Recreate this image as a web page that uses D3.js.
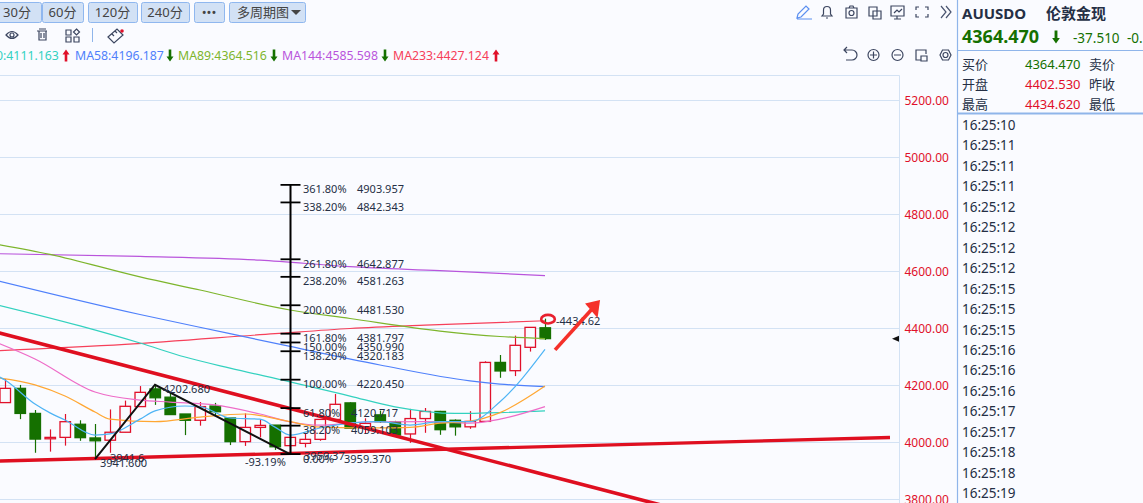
<!DOCTYPE html>
<html>
<head>
<meta charset="utf-8">
<script src="https://cdn.jsdelivr.net/npm/d3@7"></script>
<style>
    html, body { margin: 0; padding: 0; background: #fafbff; overflow: hidden; }
    svg { display: block; }
    text { font-family: "Noto Sans", "Noto Sans CJK SC", sans-serif; }
</style>
</head>
<body>
<script>
// candles, left to right
const candleOpen = [4140, 4190, 4102, 4013, 4018, 4064, 4016, 4008, 4036, 4126, 4188, 4159, 4100, 4078, 4128, 4086, 4003, 4053, 4061, 3989, 3997, 4011, 4081, 4139, 4055, 4097, 4072, 4030, 4084, 4109, 4078, 4055, 4074, 4281, 4252, 4334, 4402.53];
const candleClose = [4190, 4102, 4012, 4018, 4073, 4017, 4006, 4036, 4127, 4176, 4157, 4098, 4078, 4126, 4108, 4003, 4053, 4060, 3985, 4018, 4011, 4081, 4134, 4050, 4067, 4073, 4026, 4084, 4109, 4045, 4055, 4074, 4281, 4251, 4341, 4404, 4364.47];
const candleHigh = [4223, 4202, 4114, 4046, 4100, 4078, 4065, 4116, 4147, 4198, 4202.68, 4174, 4100, 4142, 4139, 4086, 4102, 4081, 4061, 4018, 4032, 4081, 4170, 4141, 4085, 4112, 4076, 4118, 4121, 4111, 4081, 4110, 4285, 4307, 4375, 4404, 4434.62];
const candleLow = [4140, 4082, 3964, 3968, 3989, 4006, 3941.6, 3964, 4036, 4126, 4132, 4098, 4026, 4059, 4096, 3991, 3988, 4018, 3974, 3959.37, 3983, 4006, 4081, 4050, 4030, 4069, 4026, 3999, 4034, 4027, 4024, 4048, 4074, 4227, 4233, 4319, 4360];

const ma5Idx = [-1, 0, 2, 3, 4, 6, 7, 9, 10, 12, 13, 15, 17, 18, 19, 21, 23, 25, 27, 29, 31, 33, 36];
const ma5Val = [4247, 4219, 4135, 4104, 4079, 4026, 4030, 4082, 4111, 4128, 4126, 4086, 4082, 4054, 4026, 4051, 4068, 4073, 4061, 4073, 4073, 4143, 4327];
const ma10Idx = [-1, 2, 4, 6, 7, 10, 13, 16, 19, 21, 25, 27, 29, 31, 33, 36];
const ma10Val = [4230, 4202, 4163, 4107, 4082, 4073, 4089, 4100, 4073, 4054, 4051, 4053, 4068, 4075, 4105, 4198];
const ma20Idx = [-1, 2, 6, 9, 11, 14, 17, 19, 21, 24, 28, 31, 33, 36];
const ma20Val = [4360, 4293, 4177, 4149, 4142, 4132, 4100, 4072, 4061, 4072, 4073, 4068, 4082, 4126];
const ma30Idx = [-1, 5, 9, 12, 15, 19, 23, 26, 30, 33, 36];
const ma30Val = [4489, 4409, 4349, 4300, 4261, 4213, 4163, 4125, 4102, 4105, 4111.163];
const ma58Idx = [-1, 9, 15, 19, 25, 31, 33, 36];
const ma58Val = [4574, 4449, 4382, 4337, 4272, 4216, 4205, 4196.187];
const ma89Idx = [-1, 3, 9, 13, 19, 23, 29, 33, 36];
const ma89Val = [4700, 4660, 4581, 4535, 4465, 4435, 4391, 4372, 4364.516];
const ma144Idx = [-1, 9, 17, 23, 29, 36];
const ma144Val = [4663, 4653, 4640, 4617, 4603, 4585.598];
const ma233Idx = [-1, 8, 18, 23, 28, 36];
const ma233Val = [4321, 4344, 4382, 4400, 4412, 4427.124];

// drawn objects
const trendDownIdx = [-1, 44];
const trendDownVal = [4393, 3777];
const trendUpIdx = [-1, 59];
const trendUpVal = [3934, 4017.5];
const zigzagIdx = [6, 10, 19];
const zigzagVal = [3941.6, 4202.68, 3959.37];
const arrowIdx = [36.67, 39.67];
const arrowVal = [4325, 4500];

const fibPct = ['361.80%', '338.20%', '261.80%', '238.20%', '200.00%', '161.80%', '150.00%', '138.20%', '100.00%', '61.80%', '38.20%', '0.00%'];
const fibVal = [4903.957, 4842.343, 4642.877, 4581.263, 4481.53, 4381.797, 4350.99, 4320.183, 4220.45, 4120.717, 4059.103, 3959.37];

const priceTicks = [3800, 4000, 4200, 4400, 4600, 4800, 5000, 5200];

const legendNames = ['0:4111.163', 'MA58:4196.187', 'MA89:4364.516', 'MA144:4585.598', 'MA233:4427.124'];
const legendUp = [true, false, false, false, true];

const periodLabels = ['30分', '60分', '120分', '240分', '•••', '多周期图'];
const quoteLeft = ['买价', '开盘', '最高'];
const quoteValue = ['4364.470', '4402.530', '4434.620'];
const quoteRight = ['卖价', '昨收', '最低'];
const tickTimes = ['16:25:10', '16:25:11', '16:25:11', '16:25:11', '16:25:12', '16:25:12', '16:25:12', '16:25:12', '16:25:15', '16:25:15', '16:25:15', '16:25:16', '16:25:16', '16:25:16', '16:25:17', '16:25:17', '16:25:18', '16:25:18', '16:25:19'];

const RED = '#e0102a', TREND = '#df0f20', GREEN = '#157000', BG = '#fafbff', GRID = '#d3e2f4', PANE = '#8fb5ea', INK = '#252f45';

let svg = d3.select('body').append('svg').attr('width', 1143).attr('height', 503);
svg.append('rect').attr('width', 1143).attr('height', 503).attr('fill', BG);

let x = d3.scaleLinear().domain([0, 36]).range([5, 545]);
let y = d3.scaleLinear().domain([3800, 5200]).range([499.5, 100.5]);

svg.append('clipPath').attr('id', 'plot').append('rect').attr('x', 0).attr('y', 75).attr('width', 899).attr('height', 428);

// grid and price axis
svg.append('g').selectAll('line').data(priceTicks).enter().append('line')
    .attr('x1', 0).attr('x2', 899).attr('y1', d => y(d)).attr('y2', d => y(d))
    .attr('stroke', GRID);
svg.append('path').attr('d', 'M0,75.5H899.5V503').attr('fill', 'none').attr('stroke', GRID);

let axis = svg.append('g').attr('transform', 'translate(899.5,0)')
    .call(d3.axisRight(y).tickValues(priceTicks).tickFormat(d3.format('.2f')).tickSize(0).tickPadding(5));
axis.select('.domain').remove();
axis.selectAll('text').attr('fill', RED).style('font-size', '12px').style('font-family', '"Noto Sans"');

let plot = svg.append('g').attr('clip-path', 'url(#plot)');

// candles
let candles = plot.append('g').selectAll('g').data(candleOpen).enter().append('g');
let colorOf = i => candleClose[i] >= candleOpen[i] ? RED : GREEN;
candles.append('line')
    .attr('x1', (d, i) => x(i) + 0.5).attr('x2', (d, i) => x(i) + 0.5)
    .attr('y1', (d, i) => y(candleHigh[i])).attr('y2', (d, i) => y(candleLow[i]))
    .attr('stroke', (d, i) => colorOf(i)).attr('stroke-width', 1.2);
candles.append('rect')
    .attr('x', (d, i) => x(i) - 5).attr('width', 10.5)
    .attr('y', (d, i) => y(Math.max(candleOpen[i], candleClose[i])))
    .attr('height', (d, i) => Math.max(1, Math.abs(y(candleOpen[i]) - y(candleClose[i]))))
    .attr('fill', (d, i) => colorOf(i) === RED ? BG : GREEN)
    .attr('stroke', (d, i) => colorOf(i)).attr('stroke-width', 1.3);

// MA lines
const maLines = [
    [ma233Idx, ma233Val, '#f6405a'],
    [ma144Idx, ma144Val, '#b955dc'],
    [ma89Idx, ma89Val, '#7db52c'],
    [ma58Idx, ma58Val, '#4f80fb'],
    [ma30Idx, ma30Val, '#33d1bf'],
    [ma20Idx, ma20Val, '#ee6cc8'],
    [ma10Idx, ma10Val, '#ffa733'],
    [ma5Idx, ma5Val, '#4eb4f5']
];
let maPath = d3.line().x(d => x(d[0])).y(d => y(d[1])).curve(d3.curveMonotoneX);
maLines.forEach(m => {
    plot.append('path').attr('d', maPath(d3.zip(m[0], m[1])))
        .attr('fill', 'none').attr('stroke', m[2]).attr('stroke-width', 1.2);
});

// trend lines
let straight = d3.line().x(d => x(d[0])).y(d => y(d[1]));
plot.append('path').attr('d', straight(d3.zip(trendDownIdx, trendDownVal)))
    .attr('stroke', TREND).attr('stroke-width', 3.6).attr('fill', 'none');
plot.append('path').attr('d', straight(d3.zip(trendUpIdx, trendUpVal)))
    .attr('stroke', TREND).attr('stroke-width', 3.4).attr('fill', 'none');

// zigzag and its labels
plot.append('path').attr('d', straight(d3.zip(zigzagIdx, zigzagVal)))
    .attr('stroke', '#111').attr('stroke-width', 2).attr('fill', 'none');

let note = (tx, ty, str, size, color) => svg.append('text').attr('x', tx).attr('y', ty)
    .attr('font-size', size || 11).attr('fill', color || INK).text(str);

note(x(10) + 8, y(4202.68) + 8, '4202.680');
note(100, y(3941.6) + 8, '3941.600');
note(110, y(3941.6) + 3, '3941.6');
note(245, y(3959.37) + 12, '-93.19%');

// fibonacci ruler
let fibX = x(19) + 0.5;
let fib = svg.append('g');
fib.append('line').attr('x1', fibX).attr('x2', fibX)
    .attr('y1', y(d3.max(fibVal))).attr('y2', y(d3.min(fibVal)))
    .attr('stroke', '#000').attr('stroke-width', 2);
fib.selectAll('line.tick').data(fibVal).enter().append('line').attr('class', 'tick')
    .attr('x1', fibX - 10).attr('x2', fibX + 10)
    .attr('y1', d => y(d)).attr('y2', d => y(d))
    .attr('stroke', '#000').attr('stroke-width', 1.8);
fib.selectAll('text.pct').data(fibPct).enter().append('text').attr('class', 'pct')
    .attr('x', 303).attr('y', (d, i) => y(fibVal[i]) + 8.6)
    .attr('font-size', 11).attr('fill', INK).text(d => d);
fib.selectAll('text.val').data(fibVal).enter().append('text').attr('class', 'val')
    .attr('x', d => d === 3959.37 ? 344 : (d < 4200 ? 351 : 357))
    .attr('y', d => y(d) + 8.6)
    .attr('font-size', 11).attr('fill', INK).text(d => d3.format('.3f')(d));
note(304, y(3959.37) + 6, '3959.37');

// high marker and arrow
svg.append('ellipse').attr('cx', x(36) + 3).attr('cy', y(4434.62) + 0.5).attr('rx', 6.8).attr('ry', 4.3)
    .attr('fill', 'none').attr('stroke', '#e8202e').attr('stroke-width', 2.6);
note(556, y(4434.62) + 6, '-4434.62');

let ax1 = x(arrowIdx[0]), ay1 = y(arrowVal[0]), ax2 = x(arrowIdx[1]), ay2 = y(arrowVal[1]);
svg.append('line').attr('x1', ax1).attr('y1', ay1).attr('x2', ax2 - 8).attr('y2', ay2 + 9)
    .attr('stroke', '#f5302a').attr('stroke-width', 3.6);
svg.append('path').attr('d', `M${ax2},${ay2}l-15,3.5l12.5,14.5z`).attr('fill', '#f5302a');

// current price marker
svg.append('path').attr('d', `M892,${y(4364.47)}l7,-3v6z`).attr('fill', '#111');

// toolbar
const btnX = [-10, 42, 88, 141, 194, 229];
const btnW = [51, 41, 49, 48, 30, 76];
let btns = svg.append('g').selectAll('g').data(periodLabels).enter().append('g');
btns.append('rect').attr('x', (d, i) => btnX[i] + 0.5).attr('y', 2.5).attr('width', (d, i) => btnW[i]).attr('height', 20)
    .attr('rx', 2).attr('fill', '#d2e1f5').attr('stroke', '#8fb7ef');
btns.append('text')
    .attr('x', (d, i) => i === 5 ? btnX[i] + 8 : btnX[i] + btnW[i] / 2 + (i === 0 ? 1.5 : 0))
    .attr('y', 17).attr('text-anchor', (d, i) => i === 5 ? 'start' : 'middle')
    .attr('font-size', 13).attr('fill', '#444').text(d => d);
svg.append('path').attr('d', 'M291,10h10l-5,5z').attr('fill', '#444');

// small line icons
let icon = (d, color, w) => svg.append('path').attr('d', d).attr('fill', 'none')
    .attr('stroke', color || '#3c4660').attr('stroke-width', w || 1.2);

icon('M6,35Q12,28 18,35Q12,42 6,35ZM14,35a2,2 0 1 1 -4,0a2,2 0 1 1 4,0');
icon('M37,31H47M39,31V40H46V31M39,29H46M41,33V38M44,33V38');
icon('M66,30h5v5h-5zM66,37h5v5h-5zM74,37h5v5h-5zM76.5,29l3,3l-3,3l-3,-3z');
svg.append('line').attr('x1', 92.5).attr('x2', 92.5).attr('y1', 28).attr('y2', 42).attr('stroke', PANE);
icon('M108,37l9,-8l6,6l-9,8zM112,34l2,2M115,31l2,2');
svg.append('circle').attr('cx', 122).attr('cy', 31).attr('r', 1.8).attr('fill', RED);

icon('M797,18l1,-4l8,-8l3,3l-8,8zM797,19H812', '#5b8ff0');
icon('M822,16h10l-1.5,-2v-4a3.5,3.5 0 0 0 -7,0v4zM826,18h2');
icon('M846,8h11v10h-11zM849,8l1,-2h3l1,2M854,13a2.5,2.5 0 1 1 -5,0a2.5,2.5 0 1 1 5,0');
icon('M869,7h8v9h-8zM873,11h8v8h-8z');
icon('M891,6h13v10h-13zM894,19h7M897,16v3M894,13l3,-3l2,2l3,-3');
icon('M916,10V7h3M925,7h3v3M928,14v3h-3M919,17h-3v-3');
icon('M941,6l5,6l-5,6M946,6l5,6l-5,6', '#4a5470');
icon('M844,50H852a4.5,4.5 0 0 1 0,10H846M847,47l-3,3l3,3');
icon('M879,55a5.5,5.5 0 1 1 -11,0a5.5,5.5 0 1 1 11,0ZM870,55h7M873.5,51.5v7');
icon('M903,55a5.5,5.5 0 1 1 -11,0a5.5,5.5 0 1 1 11,0ZM894,55h7');
icon('M921,60h-5V50h10v4M921,56h6v5h-6z');
icon('M940,55l2.5,-5h6l2.5,5l-2.5,5h-6zM948,55a2.5,2.5 0 1 1 -5,0a2.5,2.5 0 1 1 5,0');

// MA legend
const legendX = [-4, 75, 178, 282, 393];
const legendColor = ['#33d1bf', '#4f80fb', '#7db52c', '#b955dc', '#f6405a'];
const legendArrowX = [66, 170, 274, 385, 496];
let arrowGlyph = (cx, cy, up, color, s) => {
    s = s || 1;
    let d = up
        ? `M${cx},${cy - 6 * s}l${3.5 * s},${5 * s}h${-2.2 * s}v${7 * s}h${-2.6 * s}v${-7 * s}h${-2.2 * s}z`
        : `M${cx},${cy + 6 * s}l${3.5 * s},${-5 * s}h${-2.2 * s}v${-7 * s}h${-2.6 * s}v${7 * s}h${-2.2 * s}z`;
    svg.append('path').attr('d', d).attr('fill', color);
};
svg.append('g').selectAll('text').data(legendNames).enter().append('text')
    .attr('x', (d, i) => legendX[i]).attr('y', 60)
    .attr('font-size', 12.3).attr('fill', (d, i) => legendColor[i]).text(d => d);
legendNames.forEach((d, i) => arrowGlyph(legendArrowX[i], 55.5, legendUp[i], legendUp[i] ? RED : GREEN));

// quote pane
svg.append('line').attr('x1', 957.5).attr('x2', 957.5).attr('y1', 0).attr('y2', 503).attr('stroke', PANE).attr('stroke-width', 1.2);
svg.append('line').attr('x1', 958).attr('x2', 1143).attr('y1', 50.5).attr('y2', 50.5).attr('stroke', PANE);
svg.append('line').attr('x1', 958).attr('x2', 1143).attr('y1', 113.5).attr('y2', 113.5).attr('stroke', PANE).attr('stroke-width', 2);

note(962, 19, 'AUUSDO', 15, INK).attr('font-weight', 700);
note(1046, 19, '伦敦金现', 15, INK).attr('font-weight', 700);
note(962, 43, '4364.470', 18, GREEN).attr('font-weight', 700);
arrowGlyph(1056, 37, false, GREEN, 1.1);
note(1073, 43, '-37.510', 13.5, GREEN);
note(1127, 43, '-0.', 13.5, GREEN);

quoteLeft.forEach((d, i) => {
    let ty = 68.5 + i * 20;
    note(962, ty, d, 13, INK);
    note(1025, ty, quoteValue[i], 13, i === 0 ? GREEN : RED);
    note(1089, ty, quoteRight[i], 13, INK);
});

svg.append('g').selectAll('text').data(tickTimes).enter().append('text')
    .attr('x', 962).attr('y', (d, i) => 130 + i * 20.45)
    .attr('font-size', 13.5).attr('fill', INK).text(d => d);
</script>
</body>
</html>
